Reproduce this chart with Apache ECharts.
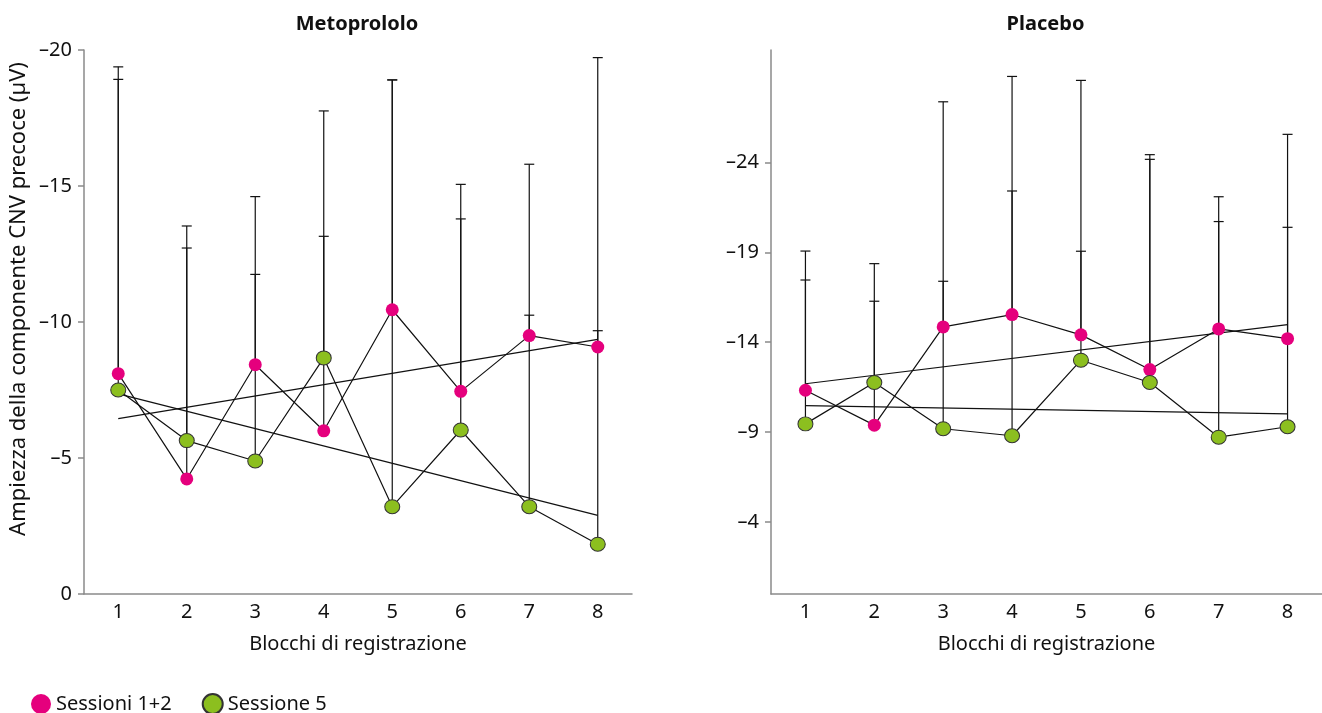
<!DOCTYPE html>
<html>
<head>
<meta charset="utf-8">
<script src="https://cdn.jsdelivr.net/npm/echarts@6/dist/echarts.min.js"></script>
<style>
  html, body { margin: 0; padding: 0; background: #ffffff; }
  #chart { width: 1322px; height: 713px; }
</style>
</head>
<body>
<div id="chart"></div>
<script>
// ---- data ----
const categories = ['1', '2', '3', '4', '5', '6', '7', '8'];

// Metoprololo panel
const metoSessioni12 = [-8.10, -4.23, -8.43, -6.00, -10.45, -7.45, -9.50, -9.08];
const metoSessione5 = [-7.50, -5.64, -4.89, -8.68, -3.21, -6.03, -3.21, -1.83];
const metoSessioni12ErrTop = [-19.38, -13.53, -14.61, -17.76, -18.90, -15.06, -15.80, -19.72];
const metoSessione5ErrTop = [-18.92, -12.72, -11.75, -13.15, -18.90, -13.79, -10.25, -9.68];
const metoSessioni12Trend = [-6.45, -9.36];   // at block 1 and block 8
const metoSessione5Trend = [-7.36, -2.89];

// Placebo panel
const plaSessioni12 = [-11.33, -9.39, -14.85, -15.54, -14.41, -12.48, -14.74, -14.20];
const plaSessione5 = [-9.46, -11.76, -9.19, -8.80, -13.00, -11.76, -8.72, -9.30];
const plaSessioni12ErrTop = [-19.07, -18.37, -27.37, -28.78, -28.56, -24.43, -22.09, -25.56];
const plaSessione5ErrTop = [-17.46, -16.28, -17.39, -22.41, -19.06, -24.17, -20.71, -20.39];
const plaSessioni12Trend = [-11.69, -14.98];
const plaSessione5Trend = [-10.48, -10.02];

// axis ticks
const metoTicks = [0, -5, -10, -15, -20];
const plaTicks = [-4, -9, -14, -19, -24];

const titles = ['Metoprololo', 'Placebo'];
const xName = 'Blocchi di registrazione';
const yName = 'Ampiezza della componente CNV precoce (µV)';
const seriesNames = ['Sessioni 1+2', 'Sessione 5'];

// ---- styling ----
const FONT = 'Noto Sans';
const PINK = '#E5007D';
const GREEN = '#8CBF1F';
const AXIS = '#8a8a8a';
const INK = '#111111';

const fmt = v => (v === 0 ? '0' : '\u2013' + Math.abs(v));

function errBars(vals, tops, gridIdx) {
  return {
    type: 'custom',
    xAxisIndex: gridIdx, yAxisIndex: gridIdx,
    z: 1,
    silent: true,
    encode: { x: 0, y: [1, 2] },
    data: categories.map((c, i) => [i, vals[i], tops[i]]),
    renderItem: function (params, api) {
      const p0 = api.coord([api.value(0), api.value(1)]);
      const p1 = api.coord([api.value(0), api.value(2)]);
      const w = 5;
      return {
        type: 'group',
        children: [
          { type: 'line', shape: { x1: p0[0], y1: p0[1], x2: p1[0], y2: p1[1] }, style: { stroke: INK, lineWidth: 1.2 } },
          { type: 'line', shape: { x1: p1[0] - w, y1: p1[1], x2: p1[0] + w, y2: p1[1] }, style: { stroke: INK, lineWidth: 1.2 } }
        ]
      };
    }
  };
}

function trend(ends, gridIdx) {
  return {
    type: 'line',
    xAxisIndex: gridIdx, yAxisIndex: gridIdx,
    z: 2, silent: true,
    symbol: 'none',
    lineStyle: { color: INK, width: 1.2 },
    data: [[0, ends[0]], [categories.length - 1, ends[1]]]
  };
}

function points(name, vals, gridIdx, isGreen) {
  return {
    type: 'line',
    name: name,
    xAxisIndex: gridIdx, yAxisIndex: gridIdx,
    z: 3,
    symbol: 'circle',
    symbolSize: isGreen ? [15, 14] : [13, 13],
    lineStyle: { color: INK, width: 1.2 },
    itemStyle: isGreen
      ? { color: GREEN, borderColor: '#333', borderWidth: 1 }
      : { color: PINK, borderWidth: 0 },
    data: vals
  };
}

const grids = [
  { left: 84, top: 50, width: 548, height: 544 },
  { left: 771, top: 50, width: 551, height: 544 }
];

function xAxisFor(i) {
  return {
    type: 'category', gridIndex: i, data: categories,
    boundaryGap: true,
    name: xName, nameLocation: 'middle', nameGap: 40,
    nameTextStyle: { fontFamily: FONT, fontSize: 20, color: INK },
    axisLine: { lineStyle: { color: AXIS, width: 1.5 } },
    axisTick: { alignWithLabel: true, length: 5, lineStyle: { color: AXIS, width: 1.5 } },
    axisLabel: { fontFamily: FONT, fontSize: 20, color: INK, margin: 8 },
    splitLine: { show: false }
  };
}

const option = {
  backgroundColor: '#ffffff',
  animation: false,
  title: titles.map((t, i) => ({
    text: t,
    left: grids[i].left + grids[i].width / 2 - 6,
    textAlign: 'center',
    top: 9,
    textStyle: { fontFamily: FONT, fontSize: 20, fontWeight: 'bold', color: INK }
  })),
  legend: {
    data: seriesNames,
    left: 31, top: 693,
    padding: 0,
    icon: 'circle',
    itemWidth: 20, itemHeight: 20,
    itemGap: 30,
    textStyle: { fontFamily: FONT, fontSize: 20, color: INK }
  },
  grid: grids,
  xAxis: [xAxisFor(0), xAxisFor(1)],
  yAxis: [
    {
      type: 'value', gridIndex: 0, inverse: true,
      min: -20, max: 0, interval: 5,
      axisLine: { show: true, lineStyle: { color: AXIS, width: 1.5 } },
      axisTick: { show: true, length: 6, lineStyle: { color: AXIS, width: 1.5 } },
      axisLabel: { fontFamily: FONT, fontSize: 20, color: INK, margin: 12, formatter: fmt },
      splitLine: { show: false }
    },
    {
      type: 'value', gridIndex: 1, inverse: true,
      min: -30.25, max: 0,
      axisLine: { show: true, lineStyle: { color: AXIS, width: 1.5 } },
      axisTick: { show: true, length: 6, customValues: plaTicks, lineStyle: { color: AXIS, width: 1.5 } },
      axisLabel: { fontFamily: FONT, fontSize: 20, color: INK, margin: 12, customValues: plaTicks, formatter: fmt },
      splitLine: { show: false }
    }
  ],
  graphic: [
    {
      type: 'text',
      x: 19, y: 299,
      rotation: Math.PI / 2,
      style: {
        text: yName,
        fontFamily: FONT, fontSize: 22, fill: INK,
        textAlign: 'center', textVerticalAlign: 'middle'
      }
    }
  ],
  series: [
    errBars(metoSessioni12, metoSessioni12ErrTop, 0),
    errBars(metoSessione5, metoSessione5ErrTop, 0),
    trend(metoSessioni12Trend, 0),
    trend(metoSessione5Trend, 0),
    points(seriesNames[0], metoSessioni12, 0, false),
    points(seriesNames[1], metoSessione5, 0, true),
    errBars(plaSessioni12, plaSessioni12ErrTop, 1),
    errBars(plaSessione5, plaSessione5ErrTop, 1),
    trend(plaSessioni12Trend, 1),
    trend(plaSessione5Trend, 1),
    points(seriesNames[0], plaSessioni12, 1, false),
    points(seriesNames[1], plaSessione5, 1, true)
  ]
};

const chart = echarts.init(document.getElementById('chart'), null, { renderer: 'canvas' });
chart.setOption(option);
</script>
</body>
</html>
